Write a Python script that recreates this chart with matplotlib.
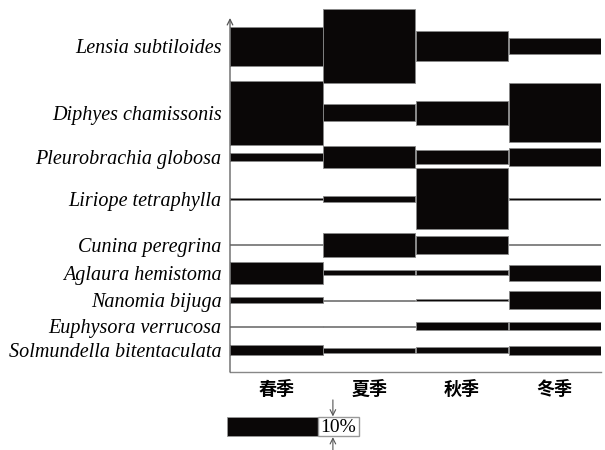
import numpy as np
import matplotlib.pyplot as plt
from matplotlib.patches import Rectangle

# Relative abundance (%) of each species per season.
species = ['Lensia subtiloides', 'Diphyes chamissonis', 'Pleurobrachia globosa',
           'Liriope tetraphylla', 'Cunina peregrina', 'Aglaura hemistoma',
           'Nanomia bijuga', 'Euphysora verrucosa', 'Solmundella bitentaculata']
seasons = ['春季', '夏季', '秋季', '冬季']

spring = [20.5, 33.5, 3.7, 1.0, 0.5, 11.5, 3.2, 0.5, 5.3]
summer = [39.0, 9.0, 11.5, 3.0, 12.5, 2.6, 0.5, 0.5, 2.6]
autumn = [16.0, 12.5, 7.4, 32.0, 9.5, 2.6, 1.5, 4.2, 2.8]
winter = [8.5, 31.0, 9.0, 1.2, 0.5, 8.0, 9.5, 4.2, 4.7]

scale_value = 10  # size of the legend bar, in %

# row centres, same units as the bar thickness (% from the top)
row_pos = [21.6, 56.8, 80.0, 102.0, 126.3, 141.0, 155.3, 169.0, 181.6]

W, H = 605, 450
fig = plt.figure(figsize=(W / 100, H / 100), dpi=100)

# main axes: x 230..601 px, y 5..372 px ; 1.9 px per %
px_per_pct = 1.9
x0, x1, y0, y1 = 230, 601, 5, 372
ax = fig.add_axes([x0 / W, 1 - y1 / H, (x1 - x0) / W, (y1 - y0) / H])
ax.set_xlim(0, 4)
ax.set_ylim((y1 - y0) / px_per_pct, 0)

for i, vals in enumerate([spring, summer, autumn, winter]):
    ax.barh(row_pos, [0.995] * len(vals), height=vals, left=i + 0.003,
            color='#0a0707', edgecolor='#888888', linewidth=0.6)

ax.set_yticks(row_pos)
ax.set_yticklabels(species, family='Liberation Serif', style='italic', fontsize=14.5)
ax.set_xticks(np.arange(4) + 0.5)
ax.set_xticklabels(seasons, family=['Noto Sans CJK SC', 'DejaVu Sans'],
                   fontsize=13, fontweight='bold')
ax.tick_params(length=0)
ax.tick_params(axis='y', pad=6)
ax.tick_params(axis='x', pad=6)

for s in ['top', 'right', 'left']:
    ax.spines[s].set_visible(False)
ax.spines['bottom'].set_color('#888888')
ax.spines['bottom'].set_linewidth(1.0)

# left axis with an open arrow at the top
ax.annotate('', xy=(0, (y1 - 18) / (y1 - y0)), xytext=(0, 0),
            xycoords='axes fraction',
            arrowprops=dict(arrowstyle='->', color='#555555', lw=0.9,
                            shrinkA=0, shrinkB=0))

# scale bar legend below the chart
lx0, lx1, ly0, ly1 = 227, 370, 395, 450
lax = fig.add_axes([lx0 / W, 1 - ly1 / H, (lx1 - lx0) / W, (ly1 - ly0) / H])
col_px = (x1 - x0) / 4
lax.set_xlim(0, (lx1 - lx0) / col_px)
lax.set_ylim((ly1 - ly0) / px_per_pct, 0)
lax.axis('off')
yc = (426.5 - ly0) / px_per_pct
lax.barh(yc, 0.98, height=scale_value, left=0, color='#0a0707',
         edgecolor='#999999', linewidth=0.6)
bx0 = 0.98
bw = (359 - 318) / col_px
lax.add_patch(Rectangle((bx0, yc - scale_value / 2), bw, scale_value,
                        facecolor='white', edgecolor='#999999', linewidth=1.0))
lax.text(bx0 + bw / 2, yc + 0.3, f'{scale_value}%', ha='center', va='center',
         family='Liberation Serif', fontsize=14)
xa = bx0 + (333 - 318) / col_px
lax.annotate('', xy=(xa, yc - scale_value / 2 - 0.3), xytext=(xa, yc - scale_value / 2 - 9),
             arrowprops=dict(arrowstyle='->', color='#555555', lw=0.8,
                             shrinkA=0, shrinkB=0), annotation_clip=False)
lax.annotate('', xy=(xa, yc + scale_value / 2 + 0.6), xytext=(xa, yc + scale_value / 2 + 9),
             arrowprops=dict(arrowstyle='->', color='#555555', lw=0.8,
                             shrinkA=0, shrinkB=0), annotation_clip=False)

fig.savefig('out.png', dpi=100)
